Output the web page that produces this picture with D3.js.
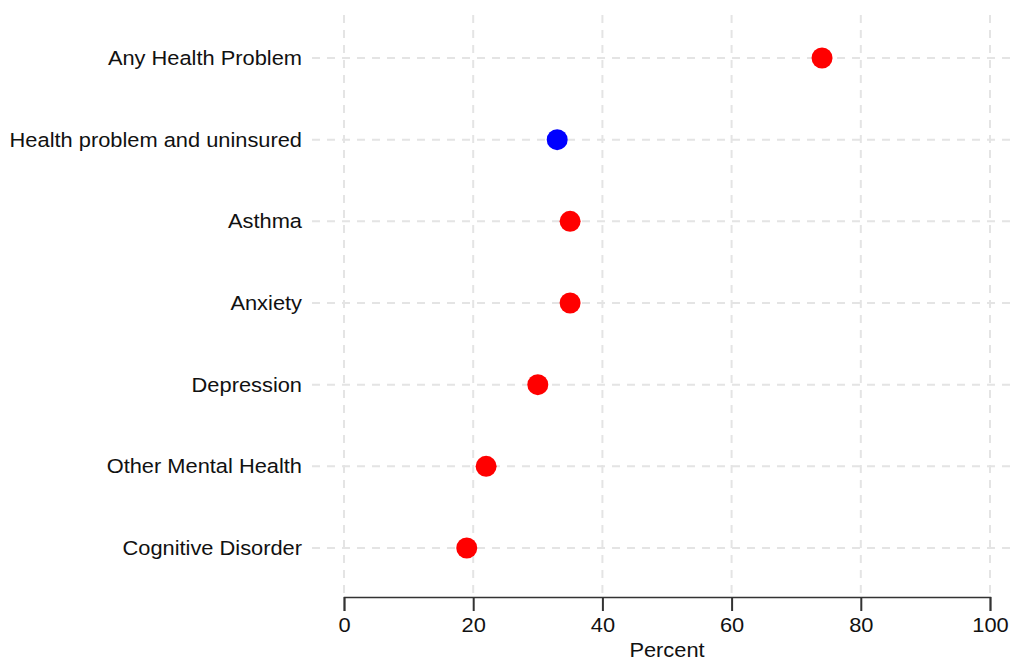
<!DOCTYPE html>
<html>
<head>
<meta charset="utf-8">
<script src="https://cdn.jsdelivr.net/npm/d3@7"></script>
<style>
  html, body { margin: 0; padding: 0; background: #fff; }
  svg { display: block; font-family: "Liberation Sans", Arial, Helvetica, sans-serif; }
</style>
</head>
<body>
<svg id="chart" width="1018" height="664"></svg>
<script>
const categories = ["Any Health Problem", "Health problem and uninsured", "Asthma", "Anxiety", "Depression", "Other Mental Health", "Cognitive Disorder"];
const values = [74, 33, 35, 35, 30, 22, 19];
const pointColors = ["#ff0000", "#0000ff", "#ff0000", "#ff0000", "#ff0000", "#ff0000", "#ff0000"];
const xTicks = [0, 20, 40, 60, 80, 100];
const xLabel = "Percent";

const svg = d3.select("#chart");
const x = d3.scaleLinear().domain([0, 100]).range([344, 990]);
const y = d3.scalePoint().domain(categories).range([58, 548]);

const gridColor = "#e4e4e4";
const axisY = 597;
const fs = 19.5;
const sx = 1.12;

// vertical gridlines
svg.append("g").selectAll("line").data(xTicks).join("line")
  .attr("x1", d => x(d)).attr("x2", d => x(d))
  .attr("y1", 15).attr("y2", axisY)
  .attr("stroke", gridColor).attr("stroke-width", 2).attr("stroke-dasharray", "8,7");

// horizontal gridlines
svg.append("g").selectAll("line").data(categories).join("line")
  .attr("x1", 312).attr("x2", 1012)
  .attr("y1", d => y(d)).attr("y2", d => y(d))
  .attr("stroke", gridColor).attr("stroke-width", 2).attr("stroke-dasharray", "8,7");

// category labels
svg.append("g").selectAll("text").data(categories).join("text")
  .attr("transform", d => `translate(302,${y(d) + 7}) scale(${sx},1)`)
  .attr("text-anchor", "end")
  .attr("font-size", fs).attr("fill", "#111")
  .text(d => d);

// x axis
const xAxis = d3.axisBottom(x).tickValues(xTicks).tickSize(14).tickPadding(5).tickFormat(d3.format("d"));
const gx = svg.append("g").attr("transform", `translate(0,${axisY})`).call(xAxis);
gx.select(".domain").attr("stroke", "#333").attr("stroke-width", 1.5);
gx.selectAll(".tick line").attr("stroke", "#333").attr("stroke-width", 2);
gx.selectAll(".tick text").remove();
gx.selectAll(".tick").append("text")
  .attr("transform", `translate(0,35) scale(${sx},1)`)
  .attr("text-anchor", "middle")
  .attr("font-size", fs).attr("fill", "#111")
  .attr("font-family", "'Liberation Sans', Arial, sans-serif")
  .text(d => d3.format("d")(d));

svg.append("text")
  .attr("transform", `translate(${x(50)},657) scale(${sx},1)`)
  .attr("text-anchor", "middle").attr("font-size", fs).attr("fill", "#111")
  .text(xLabel);

// points
svg.append("g").selectAll("circle").data(values).join("circle")
  .attr("cx", d => x(d)).attr("cy", (d, i) => y(categories[i]))
  .attr("r", 10.5)
  .attr("fill", (d, i) => pointColors[i]);
</script>
</body>
</html>
